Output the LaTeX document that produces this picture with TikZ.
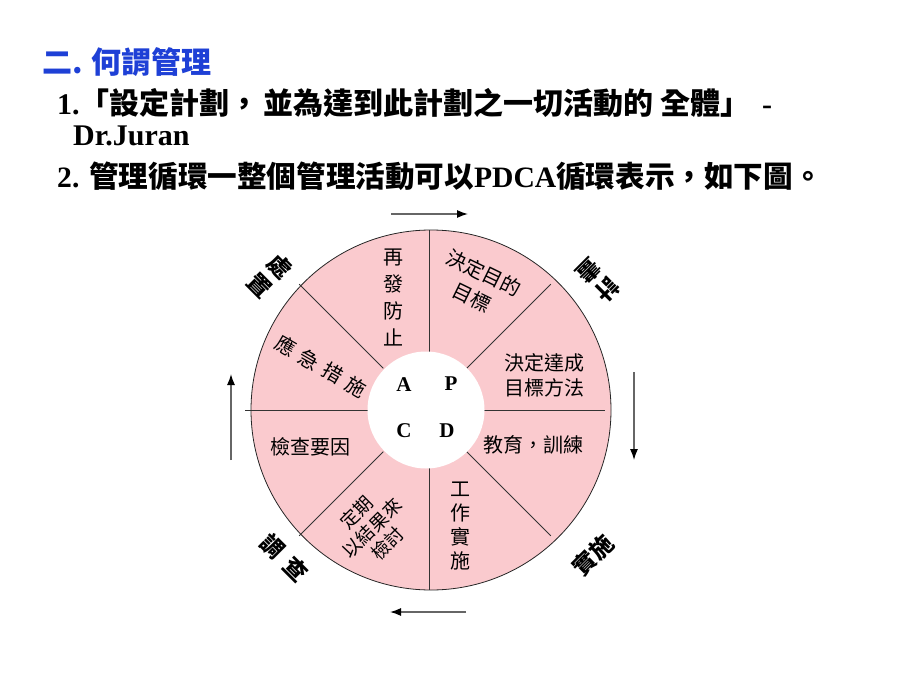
\documentclass[tikz,border=0pt]{standalone}
\usepackage{fontspec}
\setmainfont{Liberation Serif}
\newfontfamily\cjk{Noto Sans CJK TC}
\newfontfamily\ser{Liberation Serif}
\usetikzlibrary{arrows.meta}
\definecolor{titleblue}{RGB}{30,64,214}
\definecolor{sectorpink}{RGB}{250,202,206}
\tikzset{
  seg/.style={font=\cjk\fontsize{20}{27}\selectfont, align=center, inner sep=0pt},
  outerlbl/.style={font=\cjk\bfseries\fontsize{23}{27}\selectfont, align=center, inner sep=0pt},
  letter/.style={font=\ser\bfseries\fontsize{21}{21}\selectfont, inner sep=0pt},
  divider/.style={draw=black!80, line width=0.8pt},
  flow/.style={draw=black!60, line width=1.3pt, -{Latex[length=11pt,width=8pt,fill=black,color=black]}},
  heading/.style={font=\cjk\bfseries\fontsize{30}{30}\selectfont, text=titleblue, inner sep=0pt, anchor=west},
  bodyline/.style={font=\ser\bfseries\fontsize{30}{30}\selectfont, inner sep=0pt, anchor=west},
}
\begin{document}
\begin{tikzpicture}[x=1pt,y=-1pt]
\useasboundingbox (0,0) rectangle (920,690);
\fill[white] (0,0) rectangle (920,690);

% title lines
\node[heading] (title) at (42,62) {二. 何謂管理};
\node[bodyline] (line1) at (57,103) {1.{\cjk\bfseries 「設定計劃，\hspace{4pt}並為達到此計劃之一切活動的 全體」}\hspace{4pt} -};
\node[bodyline] (line2) at (73,136) {Dr.Juran};
\node[bodyline, font=\ser\bfseries\fontsize{29.6}{30}\selectfont] (line3) at (57,176) {2. {\cjk\bfseries 管理循環一整個管理活動可以}PDCA{\cjk\bfseries 循環表示，如下圖。}};

% wheel
\node[circle, draw=black!85, line width=0.8pt, fill=sectorpink, minimum size=360pt, inner sep=0pt] (wheel) at (431,410) {};
\coordinate (Q) at (425,410);
\coordinate (vt1) at (429,230); \coordinate (vt2) at (429,352);
\coordinate (vb1) at (429,468); \coordinate (vb2) at (429,590);
\draw[divider] (vt1) -- (vt2);
\draw[divider] (vb1) -- (vb2);
\coordinate (hl1) at ([shift={(180:180)}]Q); \coordinate (hl2) at ([shift={(180:57)}]Q);
\coordinate (hr1) at ([shift={(0:58)}]Q); \coordinate (hr2) at ([shift={(0:180)}]Q);
\draw[divider] (hl1) -- (hl2);
\draw[divider] (hr1) -- (hr2);
\foreach \a/\n in {-45/ur,-135/ul,135/ll,45/lr}{
  \coordinate (d\n1) at ([shift={(\a:59)}]Q);
  \coordinate (d\n2) at ([shift={(\a:178)}]Q);
  \draw[divider] (d\n1) -- (d\n2);
}
\node[circle, fill=white, minimum size=117pt, inner sep=0pt] (hub) at (426,410) {};

% hub letters
\node[letter] (A) at (404,385) {A};
\node[letter] (P) at (451,384) {P};
\node[letter] (C) at (404,431) {C};
\node[letter] (D) at (447,431) {D};

% sector texts
\node[seg] (s1) at (393,298) {再\\發\\防\\止};
\node[seg, rotate=-26] (s2) at (478,285) {決定目的\\目標};
\node[seg, font=\cjk\fontsize{20}{25}\selectfont] (s3) at (544,375) {決定達成\\目標方法};
\node[seg] (s4) at (533,445) {教育，訓練};
\node[seg, font=\cjk\fontsize{20}{24.3}\selectfont] (s5) at (460,526) {工\\作\\實\\施};
\node[seg, font=\cjk\fontsize{18.5}{22.5}\selectfont, rotate=45] (s6) at (372,528) {定期\\以結果來\\檢討};
\node[seg] (s7) at (310,447) {檢查要因};
\node[seg, rotate=-30] (s8) at (321,366) {應\hspace{7pt}急\hspace{7pt}措\hspace{7pt}施};

% outer labels
\node[outerlbl, rotate=-45] (act) at (270,276) {處\\置};
\node[outerlbl, rotate=225] (plan) at (598,281) {計\\畫};
\node[outerlbl, rotate=45] (do) at (593,555) {實施};
\node[outerlbl, rotate=-45] (check) at (284,558) {調\hspace{10pt}查};

% cycle arrows
\coordinate (at1) at (391,214); \coordinate (at2) at (468,214);
\coordinate (ar1) at (634,372); \coordinate (ar2) at (634,460);
\coordinate (ab1) at (466,612); \coordinate (ab2) at (390,612);
\coordinate (al1) at (231,460); \coordinate (al2) at (231,374);
\draw[flow] (at1) -- (at2);
\draw[flow] (ar1) -- (ar2);
\draw[flow] (ab1) -- (ab2);
\draw[flow] (al1) -- (al2);
\end{tikzpicture}
\end{document}
